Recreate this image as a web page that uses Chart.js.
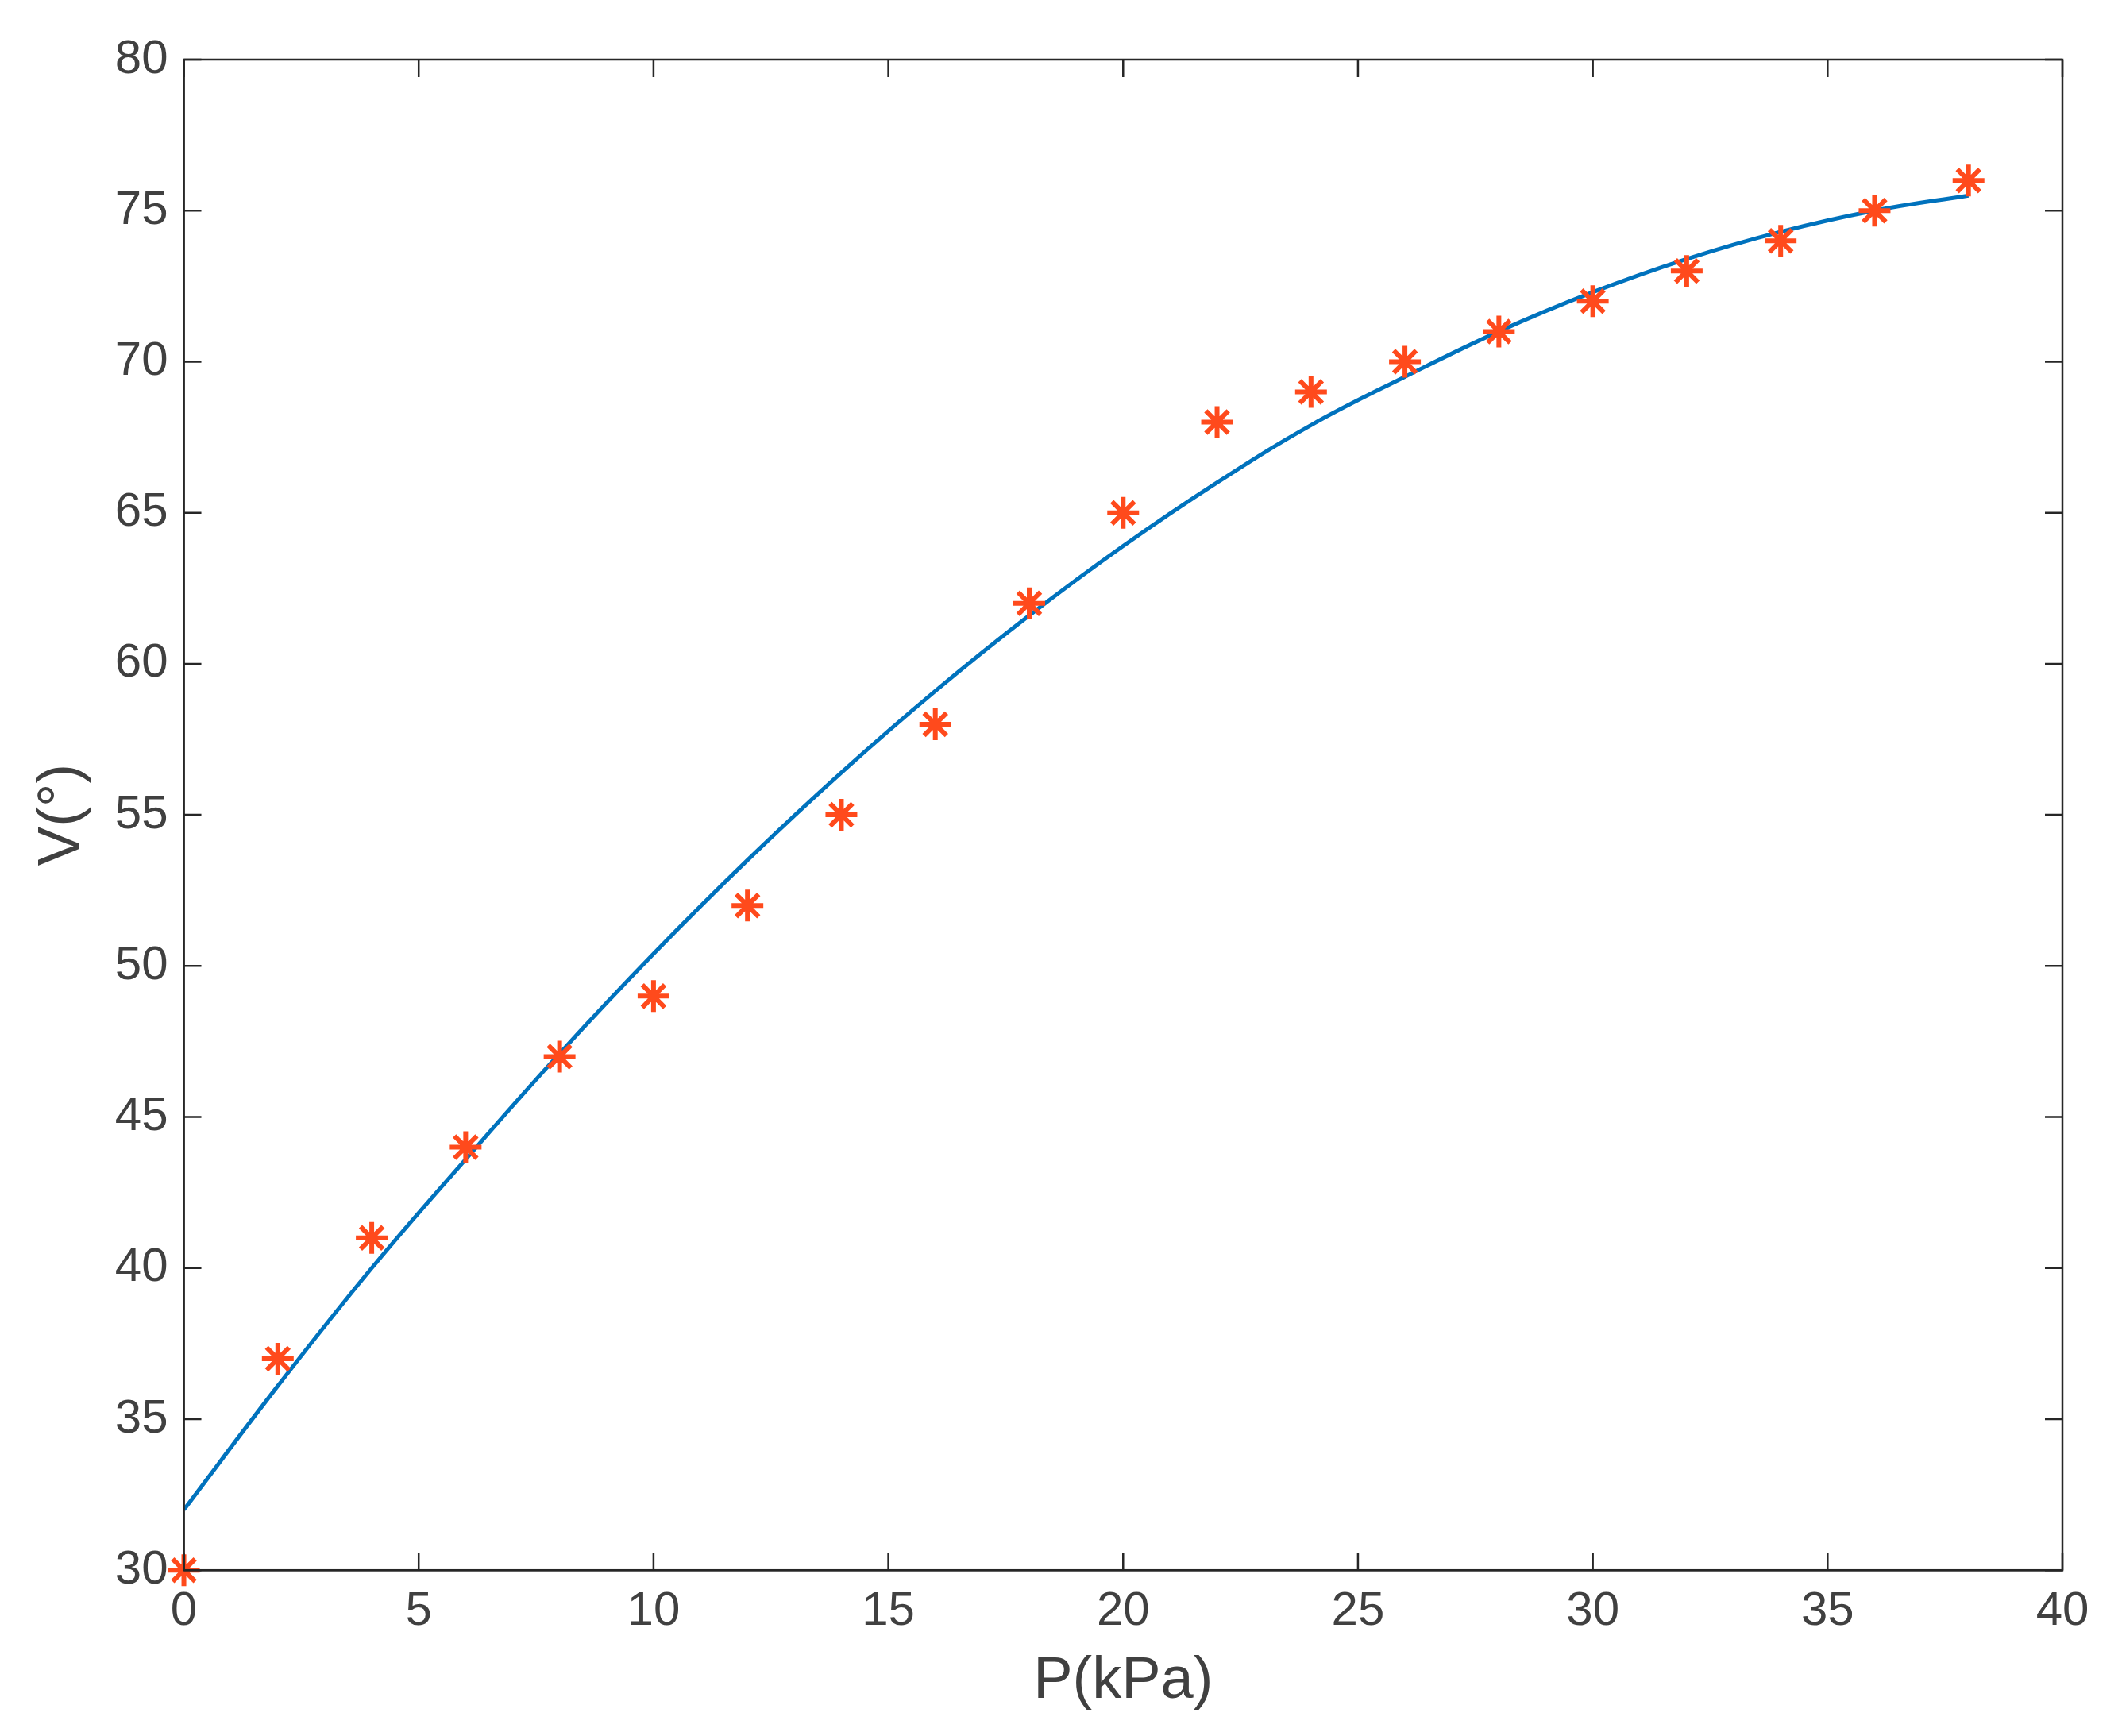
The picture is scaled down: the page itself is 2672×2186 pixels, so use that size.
<!DOCTYPE html>
<html>
<head>
<meta charset="utf-8">
<script src="https://cdn.jsdelivr.net/npm/chart.js@4"></script>
<style>
  html, body { margin: 0; background: #fff; }
  #wrap { width: 2672px; height: 2186px; }
</style>
</head>
<body>
<div id="wrap"><canvas id="chart"></canvas></div>
<script>
// measured points
const pressure = [0, 2, 4, 6, 8, 10, 12, 14, 16, 18, 20, 22, 24, 26, 28, 30, 32, 34, 36, 38];
const angle = [30, 37, 41, 44, 47, 49, 52, 55, 58, 62, 65, 68, 69, 70, 71, 72, 73, 74, 75, 76];
// fitted curve
const fitAngle = [32, 36.1, 40, 43.6, 47.1, 50.4, 53.5, 56.4, 59.1, 61.6, 63.9, 66, 67.9, 69.5, 71, 72.3, 73.4, 74.3, 75, 75.5];
const xTicks = [0, 5, 10, 15, 20, 25, 30, 35, 40];
const yTicks = [30, 35, 40, 45, 50, 55, 60, 65, 70, 75, 80];

// box around the plot area plus inward tick marks
const boxPlugin = {
  id: "box",
  afterDraw(chart) {
    const a = chart.chartArea;
    const c = chart.ctx;
    const xs = chart.scales.x, ys = chart.scales.y;
    const len = 22;
    c.save();
    c.strokeStyle = "#262626";
    c.lineWidth = 2.5;
    c.strokeRect(a.left, a.top, a.right - a.left, a.bottom - a.top);
    c.beginPath();
    xTicks.forEach((v) => {
      const px = xs.getPixelForValue(v);
      c.moveTo(px, a.bottom); c.lineTo(px, a.bottom - len);
      c.moveTo(px, a.top); c.lineTo(px, a.top + len);
    });
    yTicks.forEach((v) => {
      const py = ys.getPixelForValue(v);
      c.moveTo(a.left, py); c.lineTo(a.left + len, py);
      c.moveTo(a.right, py); c.lineTo(a.right - len, py);
    });
    c.stroke();
    c.restore();
  },
};

const tickFont = { family: "Liberation Sans, Arial", size: 60 };
const titleFont = { family: "Liberation Sans, Arial", size: 74 };

new Chart(document.getElementById("chart").getContext("2d"), {
  type: "scatter",
  data: {
    datasets: [
      {
        label: "fit",
        type: "line",
        data: pressure.map((p, i) => ({ x: p, y: fitAngle[i] })),
        borderColor: "#0072bd",
        borderWidth: 5,
        tension: 0.4,
        pointRadius: 0,
        fill: false,
        order: 2,
      },
      {
        label: "measured",
        data: pressure.map((p, i) => ({ x: p, y: angle[i] })),
        pointStyle: "star",
        pointRadius: 20,
        borderColor: "#ff4a1c",
        backgroundColor: "#ff4a1c",
        borderWidth: 6,
        clip: false,
        order: 1,
      },
    ],
  },
  options: {
    responsive: true,
    maintainAspectRatio: false,
    animation: false,
    layout: { padding: { top: 75, right: 75, bottom: 20, left: 30 } },
    plugins: { legend: { display: false }, tooltip: { enabled: false } },
    scales: {
      x: {
        min: 0,
        max: 40,
        ticks: { stepSize: 5, color: "#404040", font: tickFont, padding: 8 },
        grid: { display: false },
        border: { color: "#262626", width: 2.5 },
        title: { display: true, text: "P(kPa)", color: "#404040", font: titleFont, padding: { top: 0 } },
      },
      y: {
        min: 30,
        max: 80,
        ticks: { stepSize: 5, color: "#404040", font: tickFont, padding: 12 },
        grid: { display: false },
        border: { color: "#262626", width: 2.5 },
        title: { display: true, text: "V(°)", color: "#404040", font: titleFont, padding: { bottom: 10 } },
      },
    },
  },
  plugins: [boxPlugin],
});
</script>
</body>
</html>
